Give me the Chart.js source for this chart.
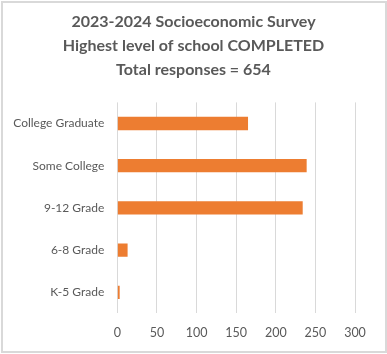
<!DOCTYPE html>
<html>
<head>
<meta charset="utf-8">
<script src="https://cdn.jsdelivr.net/npm/chart.js@4.4.1/dist/chart.umd.min.js"></script>
<style>
  html, body { margin: 0; padding: 0; background: #ffffff; }
  #wrap { position: relative; width: 387px; height: 354px; }
  #frame { position: absolute; left: 1px; top: 1px; width: 382px; height: 348px;
           border: 2px solid #d9d9d9; box-sizing: content-box; pointer-events: none; }
  canvas { position: absolute; left: 0; top: 0; }
</style>
</head>
<body>
<div id="wrap">
  <canvas id="chart" width="387" height="354"></canvas>
  <div id="frame"></div>
</div>
<script>
// Survey answers: highest level of school completed
const categories = ["College Graduate", "Some College", "9-12 Grade", "6-8 Grade", "K-5 Grade"];
const responses = [165, 239, 234, 13, 3];
const titleLines = [
  "2023-2024 Socioeconomic Survey",
  "Highest level of school COMPLETED",
  "Total responses = 654"
];
const xTicks = [0, 50, 100, 150, 200, 250, 300];

const textColor = "#595959";
const fontFamily = "Lato, 'Open Sans', sans-serif";

// Centre the title over the whole canvas rather than the padded box
const centreTitle = {
  id: "centreTitle",
  afterLayout(chart) {
    if (chart.titleBlock) {
      chart.titleBlock.left = 0;
      chart.titleBlock.right = chart.width;
    }
  }
};

new Chart(document.getElementById("chart"), {
  type: "bar",
  data: {
    labels: categories,
    datasets: [{
      data: responses,
      backgroundColor: "#ed7d31",
      borderWidth: 0,
      categoryPercentage: 0.63,
      barPercentage: 0.5
    }]
  },
  plugins: [centreTitle],
  options: {
    indexAxis: "y",
    responsive: false,
    animation: false,
    layout: { padding: { left: 0, right: 32, top: 6, bottom: 0 } },
    plugins: {
      legend: { display: false },
      tooltip: { enabled: false },
      title: {
        display: true,
        text: titleLines,
        color: textColor,
        font: { family: fontFamily, size: 16, weight: "bold", lineHeight: 1.5 },
        padding: { top: 4, bottom: 20.4 }
      }
    },
    scales: {
      x: {
        min: 0,
        max: 300,
        afterBuildTicks: (scale) => { scale.ticks = xTicks.map(v => ({ value: v })); },
        afterFit: (scale) => { scale.height = 40.6; },
        grid: { color: "#d9d9d9", lineWidth: 1, drawTicks: false },
        border: { display: false },
        ticks: { color: textColor, font: { family: fontFamily, size: 12.5 }, padding: 12 }
      },
      y: {
        afterFit: (scale) => { scale.width = 117.3; },
        grid: { display: false, drawTicks: false },
        border: { display: false },
        ticks: { color: textColor, font: { family: fontFamily, size: 12 }, padding: 13 }
      }
    }
  }
});
</script>
</body>
</html>
